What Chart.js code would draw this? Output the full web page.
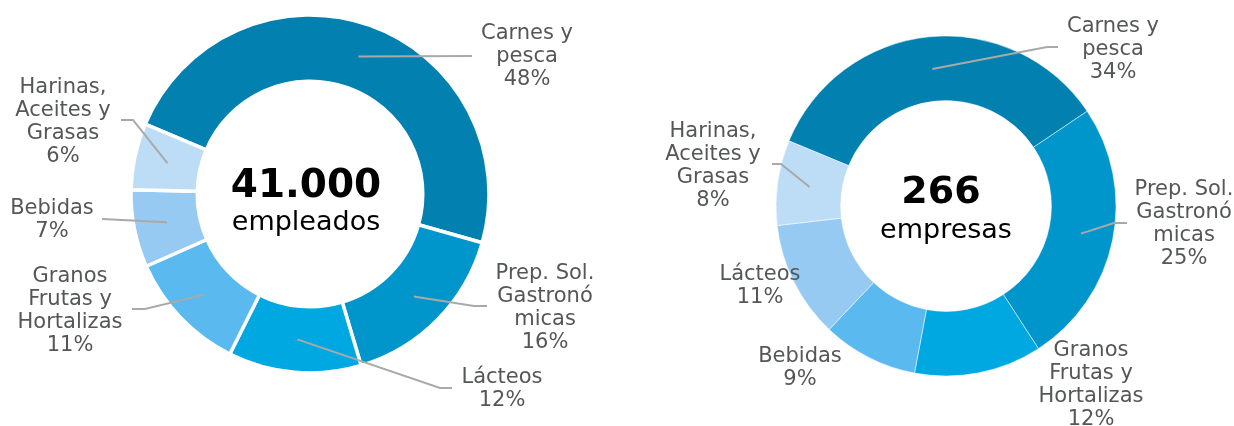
<!DOCTYPE html>
<html>
<head>
<meta charset="utf-8">
<script src="https://cdn.jsdelivr.net/npm/chart.js@4/dist/chart.umd.min.js"></script>
<style>
  html, body { margin: 0; padding: 0; background: #fff; }
  #wrap { position: relative; width: 1234px; height: 426px; }
  .box { position: absolute; top: 0; height: 426px; }
  #leftBox { left: 0; width: 620px; }
  #rightBox { left: 620px; width: 614px; }
</style>
</head>
<body>
<div id="wrap">
  <div class="box" id="leftBox"><canvas id="empleadosChart"></canvas></div>
  <div class="box" id="rightBox"><canvas id="empresasChart"></canvas></div>
</div>
<script>
// data
const empleadosCategories = ['Carnes y pesca', 'Prep. Sol. Gastronómicas', 'Lácteos', 'Granos Frutas y Hortalizas', 'Bebidas', 'Harinas, Aceites y Grasas'];
const empleadosValues = [48, 16, 12, 11, 7, 6];
const empleadosTotal = '41.000';
const empleadosUnit = 'empleados';

const empresasCategories = ['Carnes y pesca', 'Prep. Sol. Gastronómicas', 'Granos Frutas y Hortalizas', 'Bebidas', 'Lácteos', 'Harinas, Aceites y Grasas'];
const empresasValues = [34, 25, 12, 9, 11, 8];
const empresasTotal = '266';
const empresasUnit = 'empresas';

const sliceColors = ['#0280b0', '#0096cc', '#00a8e1', '#5ab9ee', '#96caf3', '#bddcf6'];

// how each category name wraps in its label
const wrappedNames = {
  'Carnes y pesca': ['Carnes y', 'pesca'],
  'Prep. Sol. Gastronómicas': ['Prep. Sol.', 'Gastronó', 'micas'],
  'Lácteos': ['Lácteos'],
  'Granos Frutas y Hortalizas': ['Granos', 'Frutas y', 'Hortalizas'],
  'Bebidas': ['Bebidas'],
  'Harinas, Aceites y Grasas': ['Harinas,', 'Aceites y', 'Grasas']
};

const labelFont = '21px "DejaVu Sans"';
const labelColor = '#555658';
const leaderColor = '#a9a9a9';

// draws the callout labels, leader lines and the total in the hole
const calloutPlugin = {
  id: 'callouts',
  afterDraw(chart, args, opts) {
    const ctx = chart.ctx;
    const meta = chart.getDatasetMeta(0);
    const arc0 = meta.data[0];
    const cx = arc0.x, cy = arc0.y;
    const cats = chart.data.labels;
    const vals = chart.data.datasets[0].data;

    ctx.save();
    opts.items.forEach((item, i) => {
      // leader line from middle of the slice
      if (item.line) {
        const p = meta.data[i].tooltipPosition(true);
        ctx.beginPath();
        ctx.strokeStyle = leaderColor;
        ctx.lineWidth = 2;
        ctx.moveTo(p.x, p.y);
        item.line.forEach(pt => ctx.lineTo(cx + pt[0], cy + pt[1]));
        ctx.stroke();
      }
      const lines = wrappedNames[cats[i]].concat([vals[i] + '%']);
      ctx.font = labelFont;
      ctx.fillStyle = labelColor;
      ctx.textAlign = 'center';
      ctx.textBaseline = 'middle';
      lines.forEach((t, k) => ctx.fillText(t, cx + item.dx, cy + item.dy + k * 22.8));
    });

    // totals in the middle
    ctx.fillStyle = '#000';
    ctx.textAlign = 'center';
    ctx.textBaseline = 'alphabetic';
    ctx.font = 'bold ' + opts.totalSize + 'px "DejaVu Sans"';
    ctx.fillText(opts.total, cx + opts.totalDx, cy + opts.totalDy);
    ctx.font = opts.unitSize + 'px "DejaVu Sans"';
    ctx.fillText(opts.unit, cx + opts.unitDx, cy + opts.unitDy);
    ctx.restore();
  }
};

function makeDoughnut(canvasId, categories, values, cfg) {
  return new Chart(document.getElementById(canvasId).getContext('2d'), {
    type: 'doughnut',
    data: {
      labels: categories,
      datasets: [{
        data: values,
        backgroundColor: sliceColors,
        borderColor: '#ffffff',
        borderWidth: cfg.borderWidth,
        hoverOffset: 0
      }]
    },
    options: {
      responsive: true,
      maintainAspectRatio: false,
      animation: false,
      rotation: cfg.rotation,
      radius: cfg.radius,
      cutout: cfg.cutout,
      layout: { padding: cfg.padding },
      plugins: {
        legend: { display: false },
        tooltip: { enabled: false },
        callouts: cfg.callouts
      }
    },
    plugins: [calloutPlugin]
  });
}

makeDoughnut('empleadosChart', empleadosCategories, empleadosValues, {
  rotation: -67,
  radius: 179,
  cutout: '63%',
  borderWidth: 3.5,
  padding: { top: 16, bottom: 54, left: 0, right: 0 },
  callouts: {
    total: empleadosTotal, unit: empleadosUnit,
    totalSize: 39, totalDx: -4, totalDy: 3,
    unitSize: 27, unitDx: -4, unitDy: 36,
    items: [
      { dx: 217, dy: -160, line: [[162, -138]] },
      { dx: 235, dy: 80, line: [[164, 112], [177, 112]] },
      { dx: 192, dy: 184, line: [[130, 194], [142, 194]] },
      { dx: -240, dy: 83, line: [[-165, 115], [-178, 115]] },
      { dx: -258, dy: 15, line: [[-208, 25]] },
      { dx: -247, dy: -106, line: [[-177, -74], [-189, -74]] }
    ]
  }
});

makeDoughnut('empresasChart', empresasCategories, empresasValues, {
  rotation: -67.5,
  radius: 170,
  cutout: '62%',
  borderWidth: 0.5,
  padding: { top: 36, bottom: 50, left: 156, right: 118 },
  callouts: {
    total: empresasTotal, unit: empresasUnit,
    totalSize: 38, totalDx: -5, totalDy: -3,
    unitSize: 27, unitDx: 0, unitDy: 32,
    items: [
      { dx: 167, dy: -179, line: [[101, -159], [112, -159]] },
      { dx: 238, dy: -16, line: [[168, 17], [181, 17]] },
      { dx: 145, dy: 145 },
      { dx: -146, dy: 151 },
      { dx: -186, dy: 69 },
      { dx: -233, dy: -74, line: [[-165, -42], [-174, -42]] }
    ]
  }
});
</script>
</body>
</html>
